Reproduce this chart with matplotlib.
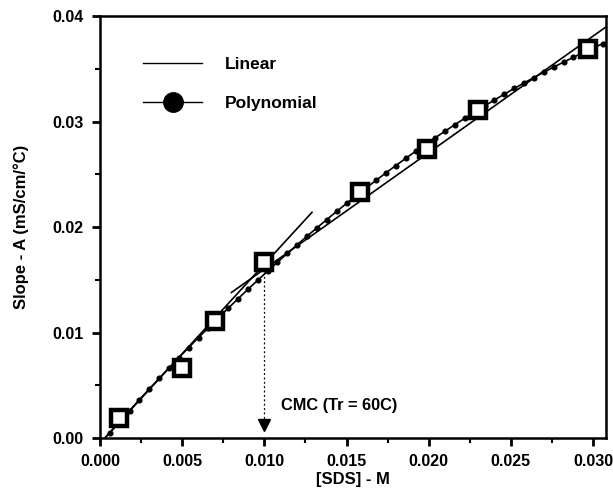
import numpy as np
import matplotlib.pyplot as plt
from matplotlib.lines import Line2D
from matplotlib.ticker import MultipleLocator

plt.rcParams['font.family'] = ['Liberation Sans', 'DejaVu Sans']
plt.rcParams['font.weight'] = 'bold'

# measured points
sds = [0.00115, 0.00497, 0.00697, 0.0100, 0.01582, 0.01988, 0.0230, 0.0297]
slope_a = [0.0019, 0.0066, 0.0111, 0.0167, 0.0233, 0.0274, 0.0311, 0.0369]

# linear fits (end points)
lin_pre_x = [0.0003, 0.0129]
lin_pre_y = [0.0, 0.0214]
lin_post_x = [0.0080, 0.0308]
lin_post_y = [0.0138, 0.0390]

cmc = 0.010

fig = plt.figure(figsize=(6.13, 4.91), dpi=100)
ax = fig.add_axes([0.163, 0.108, 0.826, 0.859])

# polynomial fit through the measured points
coef = np.polyfit(sds, slope_a, 2)
xx = np.linspace(0.0004, 0.0308, 300)
ax.plot(xx, np.polyval(coef, xx), color='black', lw=1.2)
xd = np.arange(0.0006, 0.0308, 0.0006)
ax.plot(xd, np.polyval(coef, xd), 'o', color='black', ms=3.4)

ax.plot(lin_pre_x, lin_pre_y, color='black', lw=1.2)
ax.plot(lin_post_x, lin_post_y, color='black', lw=1.2)

ax.plot(sds, slope_a, 's', ms=11.5, mfc='white', mec='black', mew=3.2, zorder=5)

# CMC marker
ax.plot([cmc, cmc], [0.0157, 0.0015], color='black', lw=0.9, ls=(0, (1.5, 2)))
ax.plot([cmc], [0.0012], 'v', color='black', ms=8.5)
ax.text(0.0110, 0.0031, 'CMC (Tr = 60C)', fontsize=11.8, fontweight='bold',
        va='center', ha='left')

handles = [Line2D([], [], color='black', lw=1),
           Line2D([], [], color='black', lw=1, marker='o', ms=14)]
ax.legend(handles, ['Linear', 'Polynomial'], loc='upper left',
          bbox_to_anchor=(0.055, 0.94), frameon=False, handlelength=3.4,
          handletextpad=1.3, labelspacing=1.35, prop={'weight': 'bold', 'size': 12.5})

ax.set_xlim(0, 0.0308)
ax.set_ylim(0, 0.04)
ax.xaxis.set_major_locator(MultipleLocator(0.005))
ax.xaxis.set_minor_locator(MultipleLocator(0.0025))
ax.yaxis.set_major_locator(MultipleLocator(0.01))
ax.yaxis.set_minor_locator(MultipleLocator(0.005))
ax.xaxis.set_major_formatter(plt.FormatStrFormatter('%.3f'))
ax.yaxis.set_major_formatter(plt.FormatStrFormatter('%.2f'))
ax.tick_params(which='major', direction='out', length=5.5, width=2,
               labelsize=11.5, pad=6)
ax.tick_params(which='minor', direction='out', length=3.5, width=1.5)
for lbl in ax.get_xticklabels() + ax.get_yticklabels():
    lbl.set_fontweight('bold')

for s in ax.spines.values():
    s.set_linewidth(1.8)

ax.set_xlabel('[SDS] - M', fontsize=12, fontweight='bold', labelpad=2)
ax.set_ylabel('Slope - A (mS/cm/°C)', fontsize=12, fontweight='bold', labelpad=17)

fig.savefig('out.png', dpi=100)
